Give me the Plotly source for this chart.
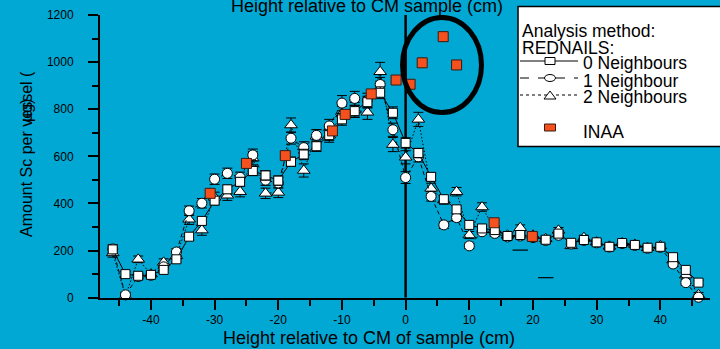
import plotly.graph_objects as go

# ---- data -------------------------------------------------------------
height_cm = [-46, -44, -42, -40, -38, -36, -34, -32, -30, -28, -26, -24, -22, -20,
             -18, -16, -14, -12, -10, -8, -6, -4, -2, 0, 2, 4, 6, 8, 10, 12, 14,
             16, 18, 20, 22, 24, 26, 28, 30, 32, 34, 36, 38, 40, 42, 44, 46]

# REDNAILS, 0 neighbours
sc_0n = [205, 100, 93, 97, 118, 163, 259, 326, 412, 460, 492, 538, 519, 497,
         577, 608, 643, 690, 757, 792, 830, 870, 785, 657, 614, 513, 418, 375,
         309, 294, 287, 262, 266, 258, 246, 272, 233, 245, 235, 216, 232, 224,
         212, 216, 172, 118, 64]
sc_0n_err = [15, 12, 10, 10, 12, 12, 15, 15, 18, 18, 18, 20, 20, 20, 20, 22,
             22, 22, 25, 25, 25, 25, 25, 22, 20, 18, 15, 15, 12, 12, 12, 12,
             12, 12, 12, 12, 10, 10, 10, 10, 10, 10, 10, 10, 12, 12, 10]

# REDNAILS, 1 neighbour
sc_1n = [207, 12, 90, 95, 131, 194, 369, 401, 503, 528, 511, 606, 499, 487,
         677, 637, 689, 729, 826, 846, 838, 905, 713, 510, 598, 430, 309, 340,
         220, 280, 273, 258, 262, 255, 243, 265, 228, 243, 233, 215, 230, 222,
         210, 214, 143, 64, 2]
sc_1n_err = [18, 12, 12, 12, 14, 15, 20, 20, 22, 22, 22, 25, 22, 22, 25, 25,
             25, 28, 32, 30, 30, 30, 28, 25, 22, 20, 15, 15, 12, 12, 12, 12,
             12, 12, 12, 12, 10, 10, 10, 10, 10, 10, 10, 10, 12, 12, 10]

# REDNAILS, 2 neighbours
sc_2n = [190, 8, 163, 100, 150, 178, 333, 287, 426, 435, 450, 592, 443, 447,
         733, 540, 685, 690, 780, 797, 787, 959, 650, 596, 757, 464, 415, 450,
         266, 385, 290, 265, 297, 265, 250, 286, 220, 255, 236, 218, 233, 226,
         212, 220, 160, 96, 12]
sc_2n_err = [18, 12, 14, 12, 15, 15, 22, 22, 22, 22, 22, 28, 22, 22, 30, 28,
             28, 30, 32, 32, 30, 40, 30, 28, 30, 22, 18, 18, 15, 18, 12, 12,
             12, 12, 12, 12, 10, 10, 10, 10, 10, 10, 10, 10, 12, 12, 10]

# lone lower error limits
low_cm = [18, 22]
low_sc = [202, 85]

# INAA
inaa_cm = [-30.7, -25.0, -18.9, -11.5, -9.5, -5.4, -1.5, 0.7, 2.6, 5.9, 8.0, 13.9, 19.9]
inaa_sc = [443, 570, 603, 708, 778, 865, 924, 906, 997, 1108, 988, 318, 260]
inaa_err = [10, 10, 10, 10, 10, 10, 10, 10, 10, 12, 10, 10, 10]

x_ticks = [-40, -30, -20, -10, 0, 10, 20, 30, 40]
y_ticks = [0, 200, 400, 600, 800, 1000, 1200]

# ---- styling ----------------------------------------------------------
W, H = 720, 349
BG = "#02A8D4"
FONT = "Liberation Sans, Arial, sans-serif"
INAA_COLOR = "#F4511E"


def px(x):
    return x / W


def py(y):
    return 1 - y / H


def rednails(values, errors, symbol, dash, size, name):
    return go.Scatter(
        x=height_cm, y=values, name=name, mode="lines+markers",
        line=dict(color="black", width=1, dash=dash),
        marker=dict(symbol=symbol, size=size, color="white",
                    line=dict(color="black", width=1)),
        error_y=dict(type="data", array=errors, color="black",
                     thickness=1, width=5),
        cliponaxis=False,
    )


fig = go.Figure()
fig.add_trace(rednails(sc_2n, sc_2n_err, "triangle-up", "1.5px,2px", 11, "2 Neighbours"))
fig.add_trace(rednails(sc_1n, sc_1n_err, "circle", "4px,3px", 10, "1 Neighbour"))
fig.add_trace(rednails(sc_0n, sc_0n_err, "square", "solid", 9, "0 Neighbours"))
fig.add_trace(go.Scatter(
    x=low_cm, y=low_sc, mode="markers",
    marker=dict(symbol="line-ew", size=11, line=dict(color="black", width=1.2)),
    cliponaxis=False,
))
fig.add_trace(go.Scatter(
    x=inaa_cm, y=inaa_sc, name="INAA", mode="markers",
    marker=dict(symbol="square", size=10, color=INAA_COLOR,
                line=dict(color="#3a1a10", width=1)),
    error_y=dict(type="data", array=inaa_err, color="black", thickness=1, width=4),
    cliponaxis=False,
))

axis_common = dict(
    showline=True, linecolor="black", linewidth=2, mirror=False,
    ticks="outside", ticklen=10, tickwidth=2, tickcolor="black",
    showgrid=False, zeroline=False, automargin=False,
    tickfont=dict(family=FONT, size=12, color="black"),
)

fig.update_layout(
    width=W, height=H,
    margin=dict(l=0, r=0, t=0, b=0, pad=0, autoexpand=False),
    paper_bgcolor=BG, plot_bgcolor=BG,
    showlegend=False,
    font=dict(family=FONT, color="black"),
    xaxis=dict(
        domain=[px(100), px(710)], range=[-48, 47.8],
        tickvals=x_ticks, ticktext=[str(v) for v in x_ticks],
        minor=dict(ticks="outside", ticklen=6, tickwidth=2, tickcolor="black", dtick=5, tick0=0),
        anchor="y", **axis_common,
    ),
    yaxis=dict(
        domain=[py(297.7), py(15)], range=[0, 1200],
        tickvals=y_ticks, ticktext=[str(v) for v in y_ticks],
        minor=dict(ticks="outside", ticklen=6, tickwidth=2, tickcolor="black", dtick=100, tick0=0),
        ticklabelstandoff=12,
        anchor="x", **axis_common,
    ),
)

shapes = [
    # centre-of-mass marker line
    dict(type="line", xref="x", yref="y", x0=0, x1=0, y0=0, y1=1200,
         line=dict(color="black", width=2.5), layer="below"),
    # highlight ring around the INAA outliers
    dict(type="circle", xref="paper", yref="paper",
         x0=px(402.5), x1=px(481.5), y0=py(112.5), y1=py(17.5),
         line=dict(color="black", width=5), layer="above"),
    # legend box
    dict(type="rect", xref="paper", yref="paper",
         x0=px(518), x1=px(724), y0=py(146.5), y1=py(6.5),
         fillcolor="white", line=dict(color="black", width=1.5), layer="above"),
]

# legend samples
for ly, dash in [(61, "solid"), (78, "dash"), (95, "dot")]:
    shapes.append(dict(type="line", xref="paper", yref="paper",
                       x0=px(520), x1=px(578), y0=py(ly), y1=py(ly),
                       line=dict(color="black", width=1, dash=dash), layer="above"))
shapes.append(dict(type="rect", xref="paper", yref="paper",
                   x0=px(545), x1=px(555), y0=py(64.5), y1=py(57.5),
                   fillcolor="white", line=dict(color="black", width=1), layer="above"))
shapes.append(dict(type="circle", xref="paper", yref="paper",
                   x0=px(544.5), x1=px(555.5), y0=py(81.5), y1=py(74.5),
                   fillcolor="white", line=dict(color="black", width=1), layer="above"))
shapes.append(dict(type="path", xref="paper", yref="paper",
                   path=f"M {px(544)} {py(99)} L {px(556)} {py(99)} L {px(550)} {py(91)} Z",
                   fillcolor="white", line=dict(color="black", width=1), layer="above"))
shapes.append(dict(type="rect", xref="paper", yref="paper",
                   x0=px(544.5), x1=px(555.5), y0=py(131), y1=py(124),
                   fillcolor=INAA_COLOR, line=dict(color="#3a1a10", width=1), layer="above"))
fig.update_layout(shapes=shapes)

annotations = [
    dict(text="Height relative to CM of sample (cm)", x=px(369), y=py(338),
         font=dict(size=18)),
    dict(text="Height relative to CM sample (cm)", x=px(367), y=py(6.5),
         font=dict(size=18)),
    dict(text="Amount Sc per vessel (", x=px(26), y=py(154), textangle=-90,
         font=dict(size=16)),
    dict(text="µg)", x=px(26), y=py(110), textangle=-90, font=dict(size=16)),
    dict(text="Analysis method:", x=px(521), y=py(30.7), xanchor="left", font=dict(size=17.5)),
    dict(text="REDNAILS:", x=px(521), y=py(48.3), xanchor="left", font=dict(size=17.5)),
    dict(text="0 Neighbours", x=px(582), y=py(63.3), xanchor="left", font=dict(size=17.5)),
    dict(text="1 Neighbour", x=px(582), y=py(80.7), xanchor="left", font=dict(size=17.5)),
    dict(text="2 Neighbours", x=px(582), y=py(97.3), xanchor="left", font=dict(size=17.5)),
    dict(text="INAA", x=px(582), y=py(131.7), xanchor="left", font=dict(size=17.5)),
]
for a in annotations:
    a.setdefault("xanchor", "center")
    a.update(xref="paper", yref="paper", yanchor="middle", showarrow=False,
             borderpad=0)
    a["font"] = dict(family=FONT, color="black", **a["font"])
fig.update_layout(annotations=annotations)

fig.write_html("out.html")
